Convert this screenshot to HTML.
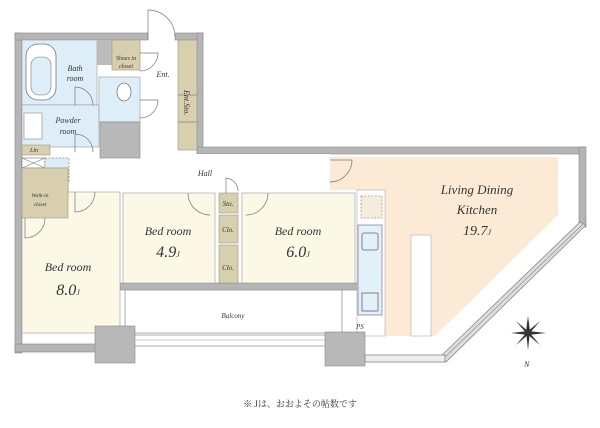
<!DOCTYPE html>
<html><head><meta charset="utf-8"><style>
html,body{margin:0;padding:0;background:#fff;width:600px;height:428px;overflow:hidden}
svg text{font-family:"Liberation Serif",serif;font-style:italic;fill:#333}
</style></head><body>
<svg width="600" height="428" viewBox="0 0 600 428" xmlns="http://www.w3.org/2000/svg">
<!-- walls -->
<g fill="#b5b5b5" stroke="#888" stroke-width="0.6">
<rect x="15" y="33" width="7" height="320"/>
<rect x="15" y="33" width="133" height="7"/>
<rect x="175" y="33" width="28" height="7"/>
<rect x="197" y="33" width="6" height="122"/>
<rect x="197" y="147" width="388" height="7"/>
<rect x="579" y="147" width="7" height="80"/>
<rect x="15" y="344" width="82" height="8"/>
<rect x="120" y="283" width="240" height="7"/>
</g>
<!-- diagonal window -->
<polygon points="586,225 580,222 441,356 446,362" fill="#ddd" stroke="#888" stroke-width="0.8"/>
<line x1="583" y1="224" x2="443" y2="359" stroke="#888" stroke-width="0.6"/>
<rect x="365" y="355" width="80" height="7" fill="#eee" stroke="#888" stroke-width="0.8"/>
<rect x="130" y="335" width="198" height="11" fill="#fff" stroke="#999" stroke-width="0.8"/>
<line x1="130" y1="340" x2="328" y2="340" stroke="#999" stroke-width="0.6"/>
<!-- LDK -->
<polygon points="330,157 558,157 558,215 435,336 385,336 385,190 330,190" fill="#fbebd6"/>
<rect x="411" y="235" width="20" height="101" fill="#fff" stroke="#aaa" stroke-width="0.6"/>
<rect x="357" y="190" width="28" height="146" fill="#fff" stroke="#aaa" stroke-width="0.6"/>
<rect x="361" y="196" width="21" height="22" fill="#f6ecdc" stroke="#a98" stroke-width="0.8" stroke-dasharray="2,1.5"/>
<rect x="358" y="225" width="24" height="90" fill="#e2f0fa" stroke="#889" stroke-width="0.8"/>
<rect x="362" y="233" width="16" height="17" rx="2" fill="none" stroke="#667" stroke-width="0.8"/>
<rect x="362" y="293" width="16" height="18" fill="none" stroke="#667" stroke-width="0.8"/>
<!-- hall -->
<rect x="70" y="154" width="260" height="36" fill="#fff"/>
<!-- left block rooms -->
<rect x="22" y="40" width="75" height="65" fill="#deeef8" stroke="#999" stroke-width="0.6"/>
<rect x="26" y="44" width="30" height="56" rx="12" fill="#fff" stroke="#777" stroke-width="0.8"/>
<rect x="31" y="57" width="20" height="38" rx="8" fill="#deeef8" stroke="#777" stroke-width="0.6"/>
<rect x="22" y="105" width="77" height="42" fill="#deeef8" stroke="#999" stroke-width="0.6"/>
<rect x="24" y="113" width="18" height="26" fill="#fff" stroke="#888" stroke-width="0.6"/>
<rect x="97" y="40" width="15" height="25" fill="#bbb"/>
<rect x="99" y="77" width="41" height="45" fill="#deeef8" stroke="#999" stroke-width="0.6"/>
<ellipse cx="124" cy="92" rx="7" ry="9" fill="#fff" stroke="#777" stroke-width="0.8"/>
<rect x="100" y="122" width="40" height="36" fill="#b8b8b8" stroke="#888" stroke-width="0.6"/>
<rect x="112" y="40" width="28" height="30" fill="#d8cfae" stroke="#998" stroke-width="0.6"/>
<rect x="178" y="40" width="19" height="110" fill="#d8cfae" stroke="#998" stroke-width="0.6"/>
<line x1="178" y1="95" x2="197" y2="95" stroke="#998"/><line x1="178" y1="122" x2="197" y2="122" stroke="#998"/>
<rect x="22" y="145" width="28" height="10" fill="#d8cfae" stroke="#998" stroke-width="0.6"/>
<rect x="22" y="158" width="23" height="10" fill="#fff" stroke="#777" stroke-width="0.6"/>
<path d="M22 158L45 168M45 158L22 168" stroke="#777" stroke-width="0.6"/>
<rect x="45" y="158" width="24" height="24" fill="#deeef8" stroke="#888" stroke-width="0.7" stroke-dasharray="2,1.5"/>
<rect x="22" y="168" width="46" height="50" fill="#d8cfae" stroke="#998" stroke-width="0.6"/>
<!-- bedrooms -->
<rect x="22" y="192" width="98" height="141" fill="#fbf9e6" stroke="#999" stroke-width="0.6"/>
<rect x="22" y="168" width="46" height="50" fill="#d8cfae" stroke="#998" stroke-width="0.6"/>
<rect x="123" y="193" width="92" height="90" fill="#fbf9e6" stroke="#999" stroke-width="0.6"/>
<rect x="242" y="193" width="113" height="90" fill="#fbf9e6" stroke="#999" stroke-width="0.6"/>
<rect x="219" y="193" width="19" height="20" fill="#d8cfae" stroke="#998" stroke-width="0.6"/>
<rect x="219" y="215" width="19" height="28" fill="#d8cfae" stroke="#998" stroke-width="0.6"/>
<rect x="219" y="245" width="19" height="38" fill="#d8cfae" stroke="#998" stroke-width="0.6"/>
<rect x="125" y="290" width="217" height="43" fill="#fff" stroke="#999" stroke-width="0.8"/>
<!-- pillars -->
<rect x="95" y="326" width="40" height="37" fill="#b8b8b8" stroke="#888" stroke-width="0.6"/>
<rect x="325" y="332" width="40" height="34" fill="#b8b8b8" stroke="#888" stroke-width="0.6"/>
<!-- door arcs -->
<g fill="none" stroke="#777" stroke-width="0.7">
<path d="M148 40V10A27 27 0 0 1 175 37"/>
<path d="M330 160h22a22 22 0 0 1 -22 22"/>
<path d="M140 53h18a18 18 0 0 1 -18 18"/>
<path d="M140 100h18a18 18 0 0 1 -18 18"/>
<path d="M75 105V87a18 18 0 0 1 18 18"/>
<path d="M75 152V134a18 18 0 0 1 18 18"/>
<path d="M75 192v20a20 20 0 0 0 20 -20"/>
<path d="M25 218v20a20 20 0 0 0 20 -20"/>
<path d="M188 193a22 22 0 0 0 22 22"/>
<path d="M268 193a22 22 0 0 1 -22 22"/>
<path d="M226 193v-15a13 13 0 0 1 12 13"/>
</g>
<!-- compass -->
<g fill="#333">
<polygon points="528,316 530,331 528,350 526,331"/>
<polygon points="511,333 528,331 546,333 528,335"/>
<polygon points="516,321 529,332 540,345 527,334"/>
<polygon points="540,321 529,334 516,345 527,332"/>
</g>
<g font-size="11">
<text x="75" y="71" text-anchor="middle" font-size="8">Bath</text>
<text x="75" y="81" text-anchor="middle" font-size="8">room</text>
<text x="68" y="123" text-anchor="middle" font-size="8">Powder</text>
<text x="68" y="134" text-anchor="middle" font-size="8">room</text>
<text x="126" y="60" text-anchor="middle" font-size="6">Shoes in</text>
<text x="126" y="68" text-anchor="middle" font-size="6">closet</text>
<text x="163" y="77" text-anchor="middle" font-size="8">Ent.</text>
<text transform="translate(184,90) rotate(90)" font-size="8">Ent.Sto.</text>
<text x="30" y="152" font-size="6">Lin</text>
<text x="40" y="197" text-anchor="middle" font-size="5.5">Walk-in</text>
<text x="40" y="206" text-anchor="middle" font-size="5.5">closet</text>
<text x="205" y="176" text-anchor="middle" font-size="8">Hall</text>
<text x="228" y="206" text-anchor="middle" font-size="7">Sto.</text>
<text x="228" y="232" text-anchor="middle" font-size="7">Clo.</text>
<text x="228" y="270" text-anchor="middle" font-size="7">Clo.</text>
<text x="68" y="271" text-anchor="middle" font-size="12">Bed room</text>
<text x="68" y="295" text-anchor="middle" font-size="16">8.0<tspan font-size="8">J</tspan></text>
<text x="168" y="235" text-anchor="middle" font-size="12">Bed room</text>
<text x="168" y="257" text-anchor="middle" font-size="16">4.9<tspan font-size="8">J</tspan></text>
<text x="298" y="235" text-anchor="middle" font-size="12">Bed room</text>
<text x="298" y="257" text-anchor="middle" font-size="16">6.0<tspan font-size="8">J</tspan></text>
<text x="233" y="318" text-anchor="middle" font-size="7">Balcony</text>
<text x="477" y="194" text-anchor="middle" font-size="13">Living Dining</text>
<text x="477" y="214" text-anchor="middle" font-size="13">Kitchen</text>
<text x="477" y="235" text-anchor="middle" font-size="14">19.7<tspan font-size="8">J</tspan></text>
<text x="356" y="329" font-size="7">PS</text>
<text x="524" y="367" font-size="8" font-style="normal">N</text>
</g>
<text x="300" y="407" text-anchor="middle" font-size="9" style="font-family:'Liberation Serif','Noto Serif CJK SC',serif;font-style:normal">※ Jは、おおよその帖数です</text>
</svg>
</body></html>
